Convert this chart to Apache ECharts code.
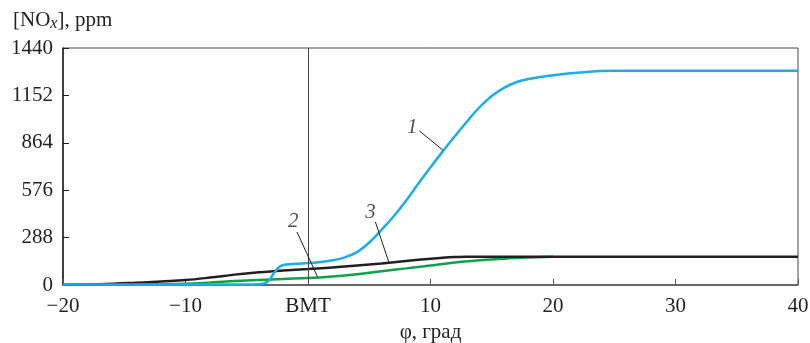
<!DOCTYPE html>
<html>
<head>
<meta charset="utf-8">
<script src="https://cdn.jsdelivr.net/npm/echarts@6/dist/echarts.min.js"></script>
<style>
  html, body { margin: 0; padding: 0; background: #fff; }
  #chart { width: 810px; height: 343px; }
</style>
</head>
<body>
<div id="chart"></div>
<script>
// угол поворота коленвала, град
var phi1 = [-20, -10, -5, -4, -3.3, -2.8, -2.3, -1.8, -1, 0, 1, 2, 3, 4, 5, 6, 7, 8, 9, 10, 11, 12, 13, 14, 15, 16, 17, 18, 19.5, 22, 25, 40];
var nox1 = [3, 3, 3, 5, 20, 70, 112, 124, 129, 133, 140, 150, 168, 200, 258, 335, 418, 512, 615, 715, 812, 905, 995, 1080, 1148, 1198, 1232, 1252, 1270, 1290, 1302, 1302];

var phi2 = [-20, -14, -10, -8, -6, -4, -2, 0, 2, 4, 6, 8, 10, 12, 14, 16, 18, 20];
var nox2 = [2, 4, 8, 15, 24, 31, 37, 42, 52, 66, 84, 101, 119, 136, 150, 160, 167, 172];

var phi3 = [-20, -17, -14, -12, -10, -8, -6, -4, -2, 0, 2, 4, 6, 8, 10, 11, 12, 13, 40];
var nox3 = [2, 5, 14, 22, 30, 45, 63, 77, 88, 97, 106, 118, 131, 146, 160, 166, 170, 172, 172];

var xTicks = [-20, -10, 0, 10, 20, 30, 40];
var yTicks = [0, 288, 576, 864, 1152, 1440];

// подписи кривых и выноски
var curveNames = ["1", "2", "3"];
var labelPos = [[8.5, 960], [-1.2, 383], [5.1, 443]];
var leaders = [
    [[9.1, 936], [11.0, 820]],
    [[-0.9, 322], [0.8, 46]],
    [[5.5, 383], [6.6, 138]]
];

function pairs(xs, ys) {
    var out = [];
    for (var i = 0; i < xs.length; i++) out.push([xs[i], ys[i]]);
    return out;
}

var serif = "Liberation Serif";

var chart = echarts.init(document.getElementById("chart"));
var option = {
    animation: false,
    title: {
        text: "[NO{sub|x}], ppm",
        left: 8,
        top: 4,
        textStyle: {
            fontFamily: serif,
            fontSize: 21,
            fontWeight: "normal",
            color: "#231f20",
            rich: {
                sub: { fontFamily: serif, fontStyle: "italic", fontSize: 16, color: "#231f20", verticalAlign: "bottom", padding: [7, 0, 0, 0] }
            }
        }
    },
    grid: {
        left: 63, right: 12, top: 48, bottom: 58,
        outerBoundsMode: "none",
        show: true, borderColor: "#444", borderWidth: 1
    },
    xAxis: {
        type: "value",
        min: -20, max: 40, interval: 10,
        name: "φ, град",
        nameLocation: "middle",
        nameGap: 37,
        nameTextStyle: { fontFamily: serif, fontSize: 21, color: "#231f20" },
        axisLine: { onZero: false, lineStyle: { color: "#555", width: 1.5 } },
        axisTick: { inside: true, length: 6, lineStyle: { color: "#555" } },
        splitLine: { show: false },
        axisLabel: {
            fontFamily: serif, fontSize: 21, color: "#231f20", margin: 11,
            formatter: function (v) {
                if (v === 0) return "BMT";
                return v < 0 ? "\u2212" + Math.abs(v) : String(v);
            }
        }
    },
    yAxis: {
        type: "value",
        min: 0, max: 1440, interval: 288,
        axisLine: { show: true, onZero: false, lineStyle: { color: "#231f20", width: 1.5 } },
        axisTick: { show: true, inside: true, length: 6, lineStyle: { color: "#231f20" } },
        splitLine: { show: false },
        axisLabel: {
            fontFamily: serif, fontSize: 21, color: "#231f20", margin: 10,
            formatter: function (v) { return String(v); }
        }
    },
    series: [
        {
            name: "2", type: "line", data: pairs(phi2, nox2),
            smooth: 0.4, symbol: "none",
            lineStyle: { color: "#0ca24a", width: 2.5 },
            markLine: {
                silent: true, symbol: "none", label: { show: false },
                lineStyle: { color: "#444", width: 1, type: "solid" },
                data: [{ xAxis: 0 }]
            }
        },
        {
            name: "3", type: "line", data: pairs(phi3, nox3),
            smooth: 0.4, symbol: "none",
            lineStyle: { color: "#231f20", width: 2.5 }
        },
        {
            name: "1", type: "line", data: pairs(phi1, nox1),
            smooth: 0.4, symbol: "none",
            lineStyle: { color: "#1badea", width: 2.5 }
        },
        {
            name: "labels", type: "scatter", symbolSize: 0,
            data: labelPos.map(function (p, i) { return { value: p, name: curveNames[i] }; }),
            label: {
                show: true, position: "inside", formatter: "{b}",
                fontFamily: serif, fontStyle: "italic", fontSize: 21, color: "#231f20"
            },
            markLine: {
                silent: true, symbol: "none", label: { show: false },
                lineStyle: { color: "#231f20", width: 1, type: "solid" },
                data: leaders.map(function (l) { return [{ coord: l[0] }, { coord: l[1] }]; })
            }
        }
    ]
};
chart.setOption(option);
</script>
</body>
</html>
